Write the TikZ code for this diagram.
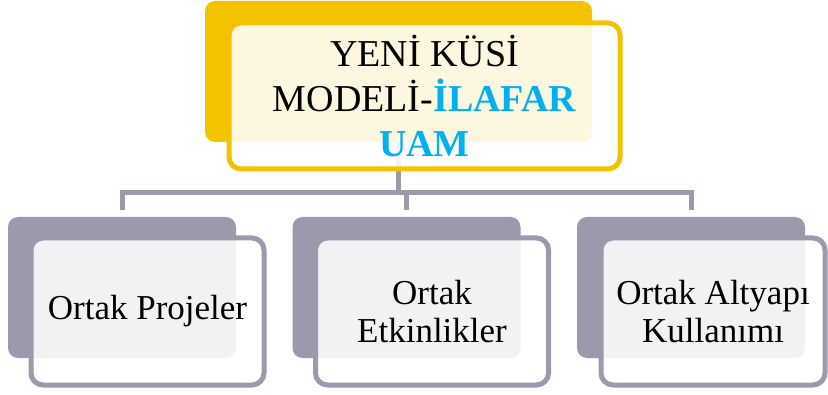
\documentclass[tikz,border=0pt]{standalone}
\usepackage{fontspec}
\setmainfont{Liberation Serif}
\usetikzlibrary{positioning, backgrounds}
\definecolor{boxgold}{RGB}{244,195,0}
\definecolor{boxgray}{RGB}{154,154,172}
\definecolor{titleblue}{RGB}{0,176,240}
\tikzstyle{goldback} = [rectangle, rounded corners=10pt, minimum width=387pt, minimum height=141pt, fill=boxgold]
\tikzstyle{goldfront} = [rectangle, rounded corners=12pt, minimum width=391pt, minimum height=146pt, draw=boxgold, line width=5pt, fill=white, fill opacity=0.88, text opacity=1, align=center, font=\fontsize{38}{45}\selectfont]
\tikzstyle{grayback} = [rectangle, rounded corners=10pt, minimum width=228pt, minimum height=141pt, fill=boxgray]
\tikzstyle{grayfront} = [rectangle, rounded corners=12pt, minimum width=233pt, minimum height=147pt, draw=boxgray, line width=5pt, fill=white, fill opacity=0.88, text opacity=1, align=center, font=\fontsize{35}{38}\selectfont]
\tikzstyle{link} = [draw=boxgray, line width=5pt, shorten >=7pt]

\begin{document}
\begin{tikzpicture}[x=1pt, y=1pt, node distance=284.5pt]
        \useasboundingbox (0,0) rectangle (828,394);
        \node (topback) [goldback] at (398.5,322.5) {};
        \node (topfront) [goldfront] at (424.5,298) {YENİ KÜSİ\\MODELİ-{\color{titleblue}\bfseries İLAFAR}\\{\color{titleblue}\bfseries UAM}};
        \node (projback) [grayback] at (122,106.5) {};
        \node (eventback) [grayback, right of=projback] {};
        \node (infraback) [grayback, right of=eventback] {};
        \node (projfront) [grayfront] at (147.5,82.5) {Ortak Projeler};
        \node (eventfront) [grayfront, right of=projfront] {Ortak\\Etkinlikler};
        \node (infrafront) [grayfront, minimum width=224pt] at (713,82.5) {Ortak Altyapı\\Kullanımı};
        \begin{pgfonlayer}{background}
        \draw [link] (topback.south) -- ++(0,-50) -| (projback.north);
        \draw [link] (topback.south) -- ++(0,-50) -| (eventback.north);
        \draw [link] (topback.south) -- ++(0,-50) -| (infraback.north);
        \end{pgfonlayer}
    \end{tikzpicture}
\end{document}
